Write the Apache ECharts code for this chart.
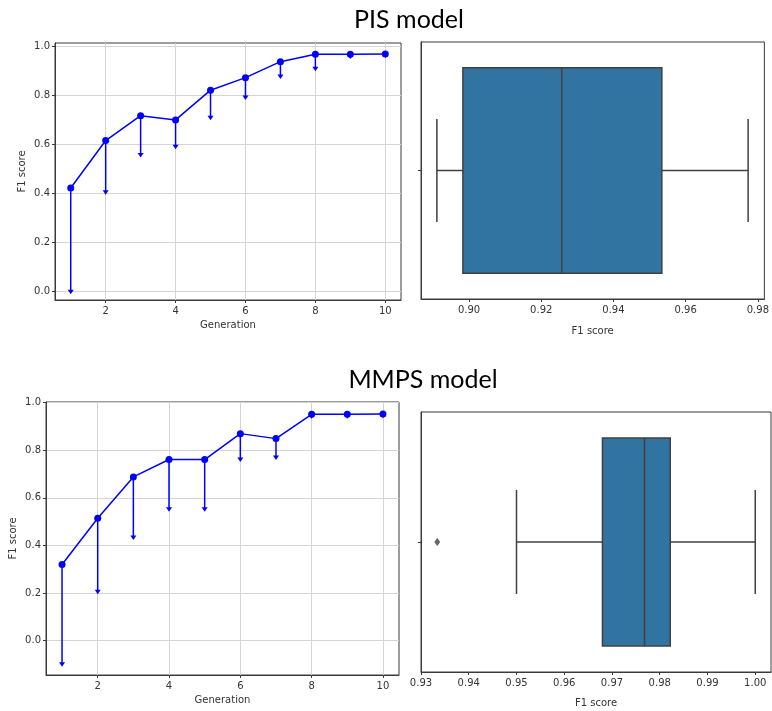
<!DOCTYPE html>
<html>
<head>
<meta charset="utf-8">
<script src="https://cdn.jsdelivr.net/npm/echarts@6/dist/echarts.min.js"></script>
<style>
html,body{margin:0;padding:0;background:#fff;}
#chart{width:772px;height:711px;}
</style>
</head>
<body>
<div id="chart"></div>
<script>
// ---- Data ----
const generations = [1, 2, 3, 4, 5, 6, 7, 8, 9, 10];
const pisF1 = [0.422, 0.615, 0.716, 0.699, 0.820, 0.871, 0.936, 0.966, 0.966, 0.967];
const pisLower = [0.0, 0.405, 0.556, 0.590, 0.708, 0.790, 0.876, 0.907, 0.957, 0.961];
const mmpsF1 = [0.320, 0.514, 0.688, 0.761, 0.761, 0.870, 0.849, 0.951, 0.951, 0.953];
const mmpsLower = [-0.100, 0.205, 0.433, 0.552, 0.552, 0.761, 0.770, 0.943, 0.943, 0.945];
// box stats: [whiskerLow, Q1, median, Q3, whiskerHigh]
const pisBox = [0.8911, 0.8983, 0.9257, 0.9534, 0.9773];
const mmpsBox = [0.9500, 0.9680, 0.9768, 0.9822, 1.0000];
const mmpsOutliers = [0.9334];
// tick labels
const genTicks = [2, 4, 6, 8, 10];
const f1Ticks = [0.0, 0.2, 0.4, 0.6, 0.8, 1.0];
const pisBoxTicks = [0.90, 0.92, 0.94, 0.96, 0.98];
const mmpsBoxTicks = [0.93, 0.94, 0.95, 0.96, 0.97, 0.98, 0.99, 1.00];
const titles = ['PIS model', 'MMPS model'];

const FONT = 'DejaVu Sans';
const AX = '#3a3a3a';
const GRIDC = '#d4d4d4';
const BLUE = '#0000ff';
const BOXC = '#3274a1';
const LINEC = '#404040';

function lineSeries(values, idx) {
  return {
    type: 'line', xAxisIndex: idx, yAxisIndex: idx,
    data: generations.map((g, i) => [g, values[i]]),
    symbol: 'circle', symbolSize: 7,
    lineStyle: {color: BLUE, width: 1.5},
    itemStyle: {color: BLUE},
    z: 5, animation: false
  };
}
function arrowSeries(values, lower, idx) {
  return {
    type: 'custom', xAxisIndex: idx, yAxisIndex: idx,
    data: generations.map((g, i) => [g, values[i], lower[i]]),
    renderItem: function (params, api) {
      const p1 = api.coord([api.value(0), api.value(1)]);
      const p2 = api.coord([api.value(0), api.value(2)]);
      return {type: 'group', children: [
        {type: 'line', shape: {x1: p1[0], y1: p1[1], x2: p2[0], y2: p2[1] - 1},
         style: {stroke: BLUE, lineWidth: 1.5}},
        {type: 'polygon', shape: {points: [[p2[0] - 3, p2[1] - 2], [p2[0] + 3, p2[1] - 2], [p2[0], p2[1] + 2.5]]},
         style: {fill: BLUE}}
      ]};
    },
    z: 4, animation: false
  };
}
function boxSeries(stats, idx) {
  return {
    type: 'custom', xAxisIndex: idx, yAxisIndex: idx,
    data: [stats],
    renderItem: function (params, api) {
      const v = [0, 1, 2, 3, 4].map(k => api.value(k));
      const c = (x, y) => api.coord([x, y]);
      const lw = 1.5;
      const st = {stroke: LINEC, lineWidth: lw};
      const a = c(v[1], 0.4), b = c(v[3], -0.4);
      return {type: 'group', children: [
        {type: 'line', shape: {x1: c(v[0], 0)[0], y1: c(v[0], 0)[1], x2: c(v[1], 0)[0], y2: c(v[1], 0)[1]}, style: st},
        {type: 'line', shape: {x1: c(v[3], 0)[0], y1: c(v[3], 0)[1], x2: c(v[4], 0)[0], y2: c(v[4], 0)[1]}, style: st},
        {type: 'line', shape: {x1: c(v[0], 0.2)[0], y1: c(v[0], 0.2)[1], x2: c(v[0], -0.2)[0], y2: c(v[0], -0.2)[1]}, style: st},
        {type: 'line', shape: {x1: c(v[4], 0.2)[0], y1: c(v[4], 0.2)[1], x2: c(v[4], -0.2)[0], y2: c(v[4], -0.2)[1]}, style: st},
        {type: 'rect', shape: {x: a[0], y: a[1], width: b[0] - a[0], height: b[1] - a[1]},
         style: {fill: BOXC, stroke: LINEC, lineWidth: lw}},
        {type: 'line', shape: {x1: c(v[2], 0.4)[0], y1: c(v[2], 0.4)[1], x2: c(v[2], -0.4)[0], y2: c(v[2], -0.4)[1]}, style: st}
      ]};
    },
    z: 4, animation: false
  };
}

const labelStyle = {color: '#333', fontFamily: FONT, fontSize: 10};
const nameStyle = {color: '#333', fontFamily: FONT, fontSize: 10};

function genXAxis(idx, gap) {
  return {
    type: 'value', gridIndex: idx, min: 0.55, max: 10.45,
    name: 'Generation', nameLocation: 'middle', nameGap: gap, nameTextStyle: nameStyle,
    axisLine: {show: true, onZero: false, lineStyle: {color: AX, width: 1}},
    axisTick: {show: true, length: 3, customValues: genTicks, lineStyle: {color: AX}},
    axisLabel: Object.assign({customValues: genTicks, margin: 6, formatter: v => String(v)}, labelStyle),
    splitLine: {show: true, lineStyle: {color: GRIDC, width: 1}}
  };
}
function f1YAxis(idx, min, max, gap) {
  return {
    type: 'value', gridIndex: idx, min: min, max: max,
    name: 'F1 score', nameLocation: 'middle', nameGap: gap, nameTextStyle: nameStyle,
    axisLine: {show: true, onZero: false, lineStyle: {color: AX, width: 1}},
    axisTick: {show: true, length: 3, customValues: f1Ticks, lineStyle: {color: AX}},
    axisLabel: Object.assign({customValues: f1Ticks, margin: 5, formatter: v => v.toFixed(1)}, labelStyle),
    splitLine: {show: true, lineStyle: {color: GRIDC, width: 1}}
  };
}
function boxXAxis(idx, min, max, ticks, gap) {
  return {
    type: 'value', gridIndex: idx, min: min, max: max,
    name: 'F1 score', nameLocation: 'middle', nameGap: gap, nameTextStyle: nameStyle,
    axisLine: {show: true, onZero: false, lineStyle: {color: AX, width: 1}},
    axisTick: {show: true, length: 3, customValues: ticks, lineStyle: {color: AX}},
    axisLabel: Object.assign({customValues: ticks, margin: 6, formatter: v => v.toFixed(2)}, labelStyle),
    splitLine: {show: false}
  };
}
function boxYAxis(idx) {
  return {
    type: 'value', gridIndex: idx, min: -0.5, max: 0.5,
    axisLine: {show: true, onZero: false, lineStyle: {color: AX, width: 1}},
    axisTick: {show: true, length: 3, customValues: [0], lineStyle: {color: AX}},
    axisLabel: {show: false},
    splitLine: {show: false}
  };
}

const gridBase = {show: true, borderColor: AX, borderWidth: 1, backgroundColor: '#fff', containLabel: false};

const option = {
  backgroundColor: '#fff',
  animation: false,
  graphic: [
    {type: 'text', x: 409, y: 7, style: {text: titles[0], font: '25px Lato', fill: '#000', align: 'center', textAlign: 'center'}},
    {type: 'text', x: 423, y: 367, style: {text: titles[1], font: '25px Lato', fill: '#000', align: 'center', textAlign: 'center'}}
  ],
  grid: [
    Object.assign({left: 55, top: 43, width: 346, height: 257}, gridBase),
    Object.assign({left: 421, top: 42, width: 347, height: 257}, gridBase),
    Object.assign({left: 46, top: 402, width: 353, height: 273}, gridBase),
    Object.assign({left: 421, top: 412, width: 350, height: 260}, gridBase)
  ],
  xAxis: [
    genXAxis(0, 20),
    boxXAxis(1, 0.8867, 0.9818, pisBoxTicks, 27),
    genXAxis(2, 20),
    boxXAxis(3, 0.93, 1.0033, mmpsBoxTicks, 26)
  ],
  yAxis: [
    f1YAxis(0, -0.034, 1.012, 28),
    boxYAxis(1),
    f1YAxis(2, -0.145, 1.003, 28),
    boxYAxis(3)
  ],
  series: [
    arrowSeries(pisF1, pisLower, 0),
    lineSeries(pisF1, 0),
    boxSeries(pisBox, 1),
    arrowSeries(mmpsF1, mmpsLower, 2),
    lineSeries(mmpsF1, 2),
    boxSeries(mmpsBox, 3),
    {
      type: 'scatter', xAxisIndex: 3, yAxisIndex: 3,
      data: mmpsOutliers.map(v => [v, 0]),
      symbol: 'diamond', symbolSize: [6, 8],
      itemStyle: {color: LINEC}, z: 5, animation: false
    }
  ]
};

const chart = echarts.init(document.getElementById('chart'), null, {renderer: 'canvas'});
chart.setOption(option);
</script>
</body>
</html>
